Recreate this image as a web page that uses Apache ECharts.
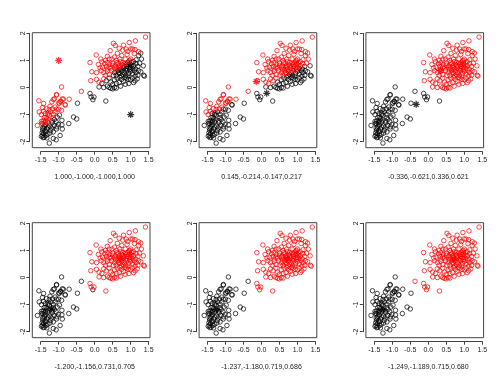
<!DOCTYPE html>
<html><head><meta charset="utf-8">
<script src="https://cdn.jsdelivr.net/npm/echarts@6/dist/echarts.min.js"></script>
<style>html,body{margin:0;padding:0;background:#fff}#c{width:500px;height:379px}</style>
</head><body><div id="c"></div>
<script>
const points = [
 [1.41,1.86],[1.13,1.72],[0.52,1.63],[0.96,1.66],[0.80,1.56],
 [0.57,1.55],[0.87,1.42],[0.78,1.38],[1.00,1.42],[1.05,1.42],[1.12,1.40],[0.43,1.36],[0.68,1.45],[1.22,1.32],[1.28,1.27],[0.92,1.33],
 [0.04,1.20],[0.63,1.26],[0.17,1.05],[0.35,1.15],[0.55,1.12],[0.75,1.18],[0.90,1.22],[1.10,1.25],[1.22,1.18],[0.48,1.05],[0.70,1.05],[0.85,1.05],[1.00,1.05],[1.15,1.02],[0.97,1.00],[0.95,0.97],[0.30,1.00],[0.60,1.00],[0.40,1.05],[1.30,1.05],
 [-0.13,0.92],[0.10,0.85],[0.20,0.95],[0.28,0.88],[0.35,0.92],[0.42,0.85],[0.50,0.90],[0.58,0.80],[0.65,0.88],[0.72,0.95],[0.78,0.82],[0.85,0.90],[0.90,0.78],[0.95,0.85],[1.02,0.92],[1.08,0.80],[1.15,0.88],[1.20,0.78],[1.25,0.90],[1.35,0.80],[0.22,0.75],[0.45,0.72],[0.62,0.72],[0.70,0.75],[0.80,0.72],[0.88,0.70],[1.00,0.75],[1.05,0.70],[0.55,0.75],[0.32,0.78],[0.15,0.72],[0.75,0.85],[0.98,0.88],
 [-0.08,0.58],[0.05,0.55],[0.18,0.62],[0.25,0.55],[0.35,0.60],[0.40,0.48],[0.48,0.62],[0.55,0.55],[0.60,0.45],[0.65,0.62],[0.70,0.52],[0.75,0.60],[0.82,0.55],[0.86,0.45],[0.90,0.62],[0.95,0.52],[1.00,0.60],[1.05,0.50],[1.10,0.62],[1.15,0.55],[1.20,0.45],[1.28,0.58],[1.38,0.42],[1.36,0.45],[0.78,0.48],[0.52,0.45],[0.30,0.45],[0.92,0.42],[1.12,0.42],[0.68,0.65],[0.85,0.65],[0.97,0.66],
 [-0.11,0.25],[0.05,0.30],[0.12,0.20],[0.25,0.32],[0.32,0.25],[0.40,0.35],[0.45,0.20],[0.55,0.28],[0.62,0.35],[0.68,0.18],[0.75,0.30],[0.80,0.22],[0.88,0.35],[0.95,0.15],[1.00,0.28],[1.05,0.35],[1.12,0.25],[1.18,0.32],[0.50,0.12],[0.85,0.12],[0.70,0.38],[0.20,0.15],[0.60,0.15],[1.08,0.18],
 [0.12,0.02],[0.40,0.00],[0.45,-0.03],[0.50,-0.05],[0.55,0.00],[0.35,0.05],[0.60,-0.02],[0.25,0.00],[0.72,0.05],
 [-0.13,-0.22],[-0.10,-0.35],[-0.02,-0.35],[-0.05,-0.45],[0.31,-0.50],
 [0.62,0.92],[0.68,0.80],[0.72,0.68],[0.78,0.92],[0.82,0.78],[0.88,0.85],[0.92,0.92],[0.96,0.72],[1.02,0.82],[1.08,0.95],[0.58,0.65],[0.66,0.55],[0.74,0.42],[0.84,0.38],[0.93,0.30],[1.14,0.68],[1.22,0.62],[0.40,0.75],[0.50,0.82],[0.35,0.68],
 [-0.92,0.02],[-1.06,-0.28],[-1.15,-0.44],[-0.87,-0.43],[-0.94,-0.52],[-0.98,-0.58],[-0.71,-0.43],[-0.82,-0.65],[-0.48,-0.58],[-0.59,-1.09],[-0.50,-1.16],[-0.72,-1.33],[-0.37,-0.14],
 [-1.12,-0.42],[-0.90,-0.42],[-0.95,-0.51],[-1.00,-0.57],[-1.55,-0.49],[-1.42,-0.59],[-1.19,-0.53],[-1.24,-0.69],[-0.82,-0.63],[-1.10,-0.72],[-1.06,-0.26],
 [-1.45,-0.74],[-1.34,-0.78],[-1.26,-0.81],[-1.17,-0.79],[-1.06,-0.80],[-1.00,-0.80],[-0.92,-0.84],[-1.54,-0.90],[-1.42,-0.88],[-1.29,-0.94],[-1.15,-0.99],[-1.37,-0.96],[-1.48,-1.00],
 [-1.26,-1.02],[-1.15,-1.11],[-1.04,-1.09],[-1.40,-1.11],[-1.33,-1.16],[-1.43,-1.23],[-1.31,-1.27],[-1.19,-1.23],[-1.07,-1.27],[-0.91,-1.21],[-0.98,-1.02],[-1.36,-1.23],
 [-1.59,-1.40],[-1.44,-1.33],[-1.36,-1.38],[-1.24,-1.42],[-1.13,-1.40],[-1.01,-1.36],[-0.91,-1.38],[-1.41,-1.49],[-1.33,-1.53],[-1.20,-1.49],[-1.06,-1.53],[-0.90,-1.53],[-1.44,-1.58],[-1.29,-1.46],
 [-1.46,-1.67],[-1.36,-1.64],[-1.24,-1.68],[-1.15,-1.64],[-0.96,-1.77],[-1.45,-1.77],[-1.40,-1.83],[-1.33,-1.86],[-1.15,-1.88],[-1.07,-1.93],[-1.26,-2.05],[-1.43,-1.85],[-1.35,-1.77],
 [-1.48,-1.25],[-1.47,-1.32],[-1.38,-1.30],[-1.40,-1.42],[-1.45,-1.50],[-1.38,-1.60],[-1.42,-1.70],[-1.48,-1.80],[-1.35,-1.10],[-1.30,-1.00],[-1.22,-0.90],[-1.10,-0.90],[-1.18,-1.30],[-1.27,-1.20],[-1.12,-1.18],[-1.05,-1.45],[-1.22,-1.58],[-1.30,-1.72]
];
// Cluster centres of each panel: x1, y1 (black), x2, y2 (red) — also the panel captions
const centers = [
 [1.000,-1.000,-1.000,1.000],
 [0.145,-0.214,-0.147,0.217],
 [-0.336,-0.621,0.336,0.621],
 [-1.200,-1.156,0.731,0.705],
 [-1.237,-1.180,0.719,0.686],
 [-1.249,-1.189,0.715,0.680]
];
const xTicks = [-1.5,-1.0,-0.5,0.0,0.5,1.0,1.5];
const yTicks = [-2,-1,0,1,2];

const FONT = 'Liberation Sans';
const star = 'path://M5,0L5,10M0,5L10,5M1.6,1.6L8.4,8.4M8.4,1.6L1.6,8.4';
const option = {animation:false, backgroundColor:'#fff', grid:[], xAxis:[], yAxis:[], series:[]};

centers.forEach((cen, i) => {
  const c = i % 3, r = Math.floor(i / 3);
  const ox = c * 166.8, oy = r * 190;
  // data grid (box)
  option.grid.push({left:32.3+ox, top:32.7+oy, width:117.7, height:115, show:true,
    borderColor:'#444', borderWidth:1, backgroundColor:'transparent', containLabel:false});
  const gd = option.grid.length - 1;
  option.xAxis.push({gridIndex:gd, type:'value', min:-1.733, max:1.536, show:false, splitLine:{show:false}});
  option.yAxis.push({gridIndex:gd, type:'value', min:-2.221, max:2.022, show:false, splitLine:{show:false}});
  // tick grid
  option.grid.push({left:40.7+ox, top:33.3+oy, width:108, height:108.4, show:false, containLabel:false});
  const gt = option.grid.length - 1;
  option.xAxis.push({gridIndex:gt, type:'value', min:xTicks[0], max:xTicks[xTicks.length-1], interval:0.5,
    position:'bottom', offset:10,
    axisLine:{show:true, onZero:false, lineStyle:{color:'#444', width:1}},
    axisTick:{show:true, length:3, lineStyle:{color:'#444'}},
    axisLabel:{show:true, margin:5, fontSize:7, fontFamily:FONT, color:'#222', formatter:v=>v.toFixed(1), showMinLabel:true, showMaxLabel:true},
    splitLine:{show:false},
    name: cen.map(v=>v.toFixed(3)).join(','), nameLocation:'middle', nameGap:22,
    nameTextStyle:{fontSize:7, fontFamily:FONT, color:'#222'}});
  option.yAxis.push({gridIndex:gt, type:'value', min:yTicks[0], max:yTicks[yTicks.length-1], interval:1,
    position:'left', offset:11.4,
    axisLine:{show:true, onZero:false, lineStyle:{color:'#444', width:1}},
    axisTick:{show:true, length:3, lineStyle:{color:'#444'}},
    axisLabel:{show:true, rotate:90, margin:3, fontSize:7, fontFamily:FONT, color:'#222', showMinLabel:true, showMaxLabel:true},
    splitLine:{show:false}});
  const blk = [], red = [];
  points.forEach(p => {
    const d1 = (p[0]-cen[0])**2 + (p[1]-cen[1])**2;
    const d2 = (p[0]-cen[2])**2 + (p[1]-cen[3])**2;
    (d2 < d1 ? red : blk).push(p);
  });
  const ax = option.xAxis.length - 2, ay = option.yAxis.length - 2;
  option.series.push({type:'scatter', xAxisIndex:ax, yAxisIndex:ay, data:blk, symbol:'circle', symbolSize:4.5,
    itemStyle:{color:'rgba(0,0,0,0)', borderColor:'#000', borderWidth:0.9}, silent:true});
  option.series.push({type:'scatter', xAxisIndex:ax, yAxisIndex:ay, data:red, symbol:'circle', symbolSize:4.5,
    itemStyle:{color:'rgba(0,0,0,0)', borderColor:'#ff0000', borderWidth:0.9}, silent:true});
  option.series.push({type:'scatter', xAxisIndex:ax, yAxisIndex:ay, data:[[cen[0],cen[1]]], symbol:star, symbolSize:7,
    itemStyle:{color:'rgba(0,0,0,0)', borderColor:'#000', borderWidth:1.2}, silent:true, z:5});
  option.series.push({type:'scatter', xAxisIndex:ax, yAxisIndex:ay, data:[[cen[2],cen[3]]], symbol:star, symbolSize:7,
    itemStyle:{color:'rgba(0,0,0,0)', borderColor:'#ff0000', borderWidth:1.2}, silent:true, z:5});
});

const chart = echarts.init(document.getElementById('c'), null, {renderer:'canvas'});
chart.setOption(option);
</script>
</body></html>
